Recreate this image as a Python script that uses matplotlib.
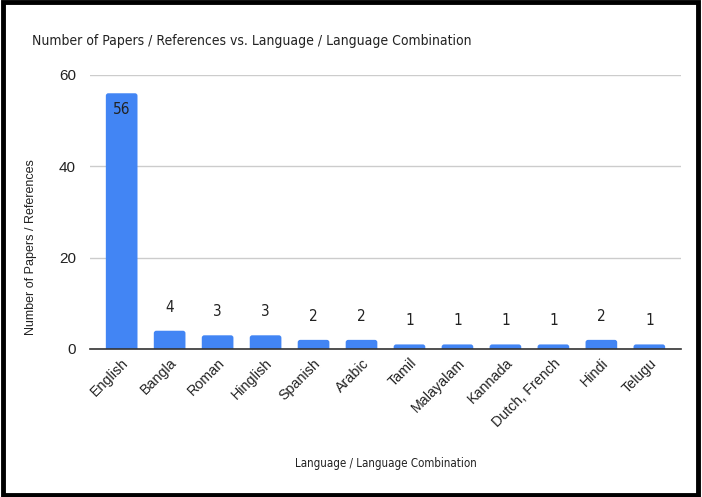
import matplotlib
matplotlib.use("Agg")
import matplotlib.pyplot as plt
from matplotlib.patches import Rectangle, FancyBboxPatch

languages = ["English", "Bangla", "Roman", "Hinglish", "Spanish", "Arabic",
             "Tamil", "Malayalam", "Kannada", "Dutch, French", "Hindi", "Telugu"]
papers = [56, 4, 3, 3, 2, 2, 1, 1, 1, 1, 2, 1]
yticks = [0, 20, 40, 60]

TXT = dict(family="DejaVu Sans", stretch="condensed")
BLUE = "#4285F4"
INK = "#222222"

fig = plt.figure(figsize=(7.02, 4.97), dpi=100)
ax = fig.add_axes([90 / 702, 1 - 349 / 497, 591 / 702, 274 / 497])

x = list(range(len(languages)))
bars = ax.bar(x, papers, width=0.66, color=BLUE, zorder=2)

ax.set_xlim(-0.66, len(languages) - 0.34)
ax.set_ylim(0, 60)

# give each bar slightly rounded top corners; the bottom rounding sits below
# the baseline and is clipped away by the axes
px_x = (591 / 702 * 702) / (ax.get_xlim()[1] - ax.get_xlim()[0])
px_y = (274 / 497 * 497) / (ax.get_ylim()[1] - ax.get_ylim()[0])
r_px = 2.5
for rect in bars:
    rect.set_visible(False)
    fb = FancyBboxPatch((rect.get_x(), -r_px / px_y), rect.get_width(),
                        rect.get_height() + r_px / px_y,
                        boxstyle=f"round,pad=0,rounding_size={r_px / px_x}",
                        mutation_aspect=px_x / px_y,
                        facecolor=BLUE, edgecolor="none", zorder=2)
    ax.add_patch(fb)

ax.set_yticks(yticks)
ax.set_yticklabels([str(t) for t in yticks], family="Liberation Sans", fontsize=11, color=INK)
ax.tick_params(axis="y", length=0, pad=10)
ax.tick_params(axis="x", length=0, pad=5)
ax.set_xticks(x)
ax.set_xticklabels(languages, rotation=45, ha="right", rotation_mode="anchor",
                   fontsize=10.3, color=INK, family="Liberation Sans")

ax.grid(axis="y", color="#cccccc", linewidth=1, zorder=0)
for s in ["top", "right", "left"]:
    ax.spines[s].set_visible(False)
ax.spines["bottom"].set_color("#333333")
ax.spines["bottom"].set_linewidth(1.2)
ax.spines["bottom"].set_zorder(3)

for rect, v in zip(bars, papers):
    cx = rect.get_x() + rect.get_width() / 2
    offset = -12 if v > 30 else 17
    ax.annotate(str(v), (cx, v), xytext=(0, offset), textcoords="offset points",
                ha="center", va="center", fontsize=11, color=INK, **TXT)

fig.text(32 / 702, 1 - 41 / 497, "Number of Papers / References vs. Language / Language Combination",
         ha="left", va="center", fontsize=10, color=INK, **TXT)
ax.set_ylabel("Number of Papers / References", fontsize=9, color=INK, family="Liberation Sans")
ax.yaxis.set_label_coords((37 - 90) / 591, (349 - 247) / 274)
ax.set_xlabel("Language / Language Combination", fontsize=8.3, color=INK, **TXT)
ax.xaxis.set_label_coords(0.5, -(457 - 349) / 274)

fig.patches.append(Rectangle((0.004, 0.005), 0.991, 0.99, transform=fig.transFigure,
                             fill=False, edgecolor="black", linewidth=3.5))

fig.savefig("out.png", dpi=100)
